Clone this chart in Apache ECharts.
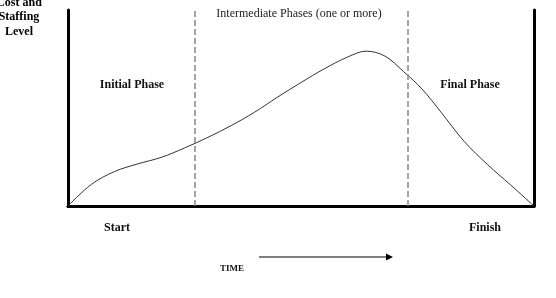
<!DOCTYPE html>
<html>
<head>
<meta charset="utf-8">
<script src="https://cdn.jsdelivr.net/npm/echarts@6/dist/echarts.min.js"></script>
<style>
html,body{margin:0;padding:0;background:#fff;}
#c{width:556px;height:298px;}
</style>
</head>
<body>
<div id="c"></div>
<script>
// Time (0 = Start, 100 = Finish)
var timeValues = [0, 5, 10, 15, 20, 25, 30, 35, 40, 45, 50, 55, 60, 64, 68, 72, 76, 80, 85, 90, 95, 100];
// Cost and staffing level (relative)
var levelValues = [0, 11, 17.6, 21.5, 24.8, 29.6, 35, 41, 47.8, 55.6, 63, 70, 76, 79, 76.5, 68.6, 59.6, 48, 33, 21.2, 10.7, 0];
// Phase boundaries on the time axis
var phaseBoundaries = [27.25, 72.85];
var phaseLabels = ['Initial Phase', 'Intermediate Phases (one or more)', 'Final Phase'];
var endLabels = ['Start', 'Finish'];

var chart = echarts.init(document.getElementById('c'));
var serif = '"Liberation Serif", "DejaVu Serif", serif';
var data = timeValues.map(function (t, i) { return [t, levelValues[i]]; });

chart.setOption({
  animation: false,
  grid: { left: 68, right: 22, top: 10, bottom: 92 },
  xAxis: {
    type: 'value', min: 0, max: 100,
    axisLine: { show: true, lineStyle: { color: '#000', width: 3 } },
    axisTick: { show: false }, axisLabel: { show: false }, splitLine: { show: false }
  },
  yAxis: [{
    type: 'value', min: 0, max: 100,
    axisLine: { show: true, lineStyle: { color: '#000', width: 3 } },
    axisTick: { show: false }, axisLabel: { show: false }, splitLine: { show: false }
  }, {
    type: 'value', min: 0, max: 100, position: 'right',
    axisLine: { show: true, lineStyle: { color: '#000', width: 3 } },
    axisTick: { show: false }, axisLabel: { show: false }, splitLine: { show: false }
  }],
  series: [{
    type: 'line',
    data: data,
    smooth: 0.35,
    showSymbol: false,
    lineStyle: { color: '#333', width: 1 },
    markLine: {
      silent: true,
      symbol: ['none', 'none'],
      label: { show: false },
      lineStyle: { color: '#888', width: 1.5, type: [6, 3] },
      data: phaseBoundaries.map(function (b) { return { xAxis: b }; })
    }
  }],
  graphic: [
    { type: 'text', x: 19, y: 17, style: { text: 'Cost and\nStaffing\nLevel', fill: '#000', font: 'bold 12px ' + serif, align: 'center', verticalAlign: 'middle', lineHeight: 14.5 } },
    { type: 'text', x: 299, y: 14, style: { text: phaseLabels[1], fill: '#222', font: '12px ' + serif, align: 'center', verticalAlign: 'middle' } },
    { type: 'text', x: 132, y: 85, style: { text: phaseLabels[0], fill: '#111', font: 'bold 12px ' + serif, align: 'center', verticalAlign: 'middle' } },
    { type: 'text', x: 470, y: 85, style: { text: phaseLabels[2], fill: '#111', font: 'bold 12px ' + serif, align: 'center', verticalAlign: 'middle' } },
    { type: 'text', x: 117, y: 228, style: { text: endLabels[0], fill: '#111', font: 'bold 12px ' + serif, align: 'center', verticalAlign: 'middle' } },
    { type: 'text', x: 485, y: 228, style: { text: endLabels[1], fill: '#111', font: 'bold 12px ' + serif, align: 'center', verticalAlign: 'middle' } },
    { type: 'text', x: 232, y: 269, style: { text: 'TIME', fill: '#111', font: 'bold 9px ' + serif, align: 'center', verticalAlign: 'middle' } },
    { type: 'line', shape: { x1: 259, y1: 257, x2: 386, y2: 257 }, style: { stroke: '#000', lineWidth: 1 } },
    { type: 'polygon', shape: { points: [[386, 253.5], [393, 257], [386, 260.5]] }, style: { fill: '#000' } }
  ]
});
</script>
</body>
</html>
